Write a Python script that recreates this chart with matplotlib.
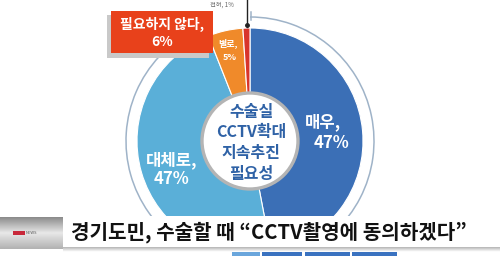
import numpy as np
import matplotlib
matplotlib.use("Agg")
import matplotlib.pyplot as plt
from matplotlib.patches import Circle, Rectangle, Arc

plt.rcParams['font.family'] = ['Noto Sans CJK KR', 'DejaVu Sans']

# Survey answers (share of respondents, %)
categories = ["매우", "대체로", "별로", "전혀"]
shares = [47, 47, 5, 1]
slice_colors = ["#3b6fb6", "#5aafd8", "#f08a2a", "#d8352b"]

center_title = ["수술실", "CCTV확대", "지속추진", "필요성"]
not_needed_total = 6
headline = "경기도민, 수술할 때 \u201cCCTV촬영에 동의하겠다\u201d"

W, H = 500, 256
fig = plt.figure(figsize=(W / 100, H / 100), dpi=100)
ax = fig.add_axes([0, 0, 1, 1])


def Y(y):
    return H - y


cx, cy, R = 250, Y(141), 113

# outer thin guide ring, open at the upper left
ax.add_patch(Arc((cx, cy), 2 * 124, 2 * 124, theta1=137, theta2=450,
                 color="#9fb3c8", lw=1.1, zorder=1))
ax.plot([251, 251], [Y(12), Y(20)], color="#9fb3c8", lw=1.1, zorder=1)

ax.pie(shares, colors=slice_colors, startangle=90, counterclock=False,
       center=(cx, cy), radius=R, frame=True,
       wedgeprops=dict(edgecolor="white", linewidth=0.8, zorder=2))

# center badge
ax.add_patch(Circle((cx, cy), 48, facecolor="white", edgecolor="#b4b4b4",
                    lw=2.4, zorder=3))
for i, line in enumerate(center_title):
    ax.text(cx + 1, Y(112 + 20.5 * i), line, ha="center", va="center",
            fontsize=11.5, fontweight="heavy", color="#2f62a6", zorder=4)

# slice labels
ax.text(323, Y(122), f"{categories[0]},", ha="center", va="center",
        fontsize=12, fontweight="bold", color="white", zorder=4)
ax.text(332, Y(143), f"{shares[0]}%", ha="center", va="center",
        fontsize=12, fontweight="bold", color="white", zorder=4)
ax.text(172, Y(160), f"{categories[1]},", ha="center", va="center",
        fontsize=12, fontweight="bold", color="white", zorder=4)
ax.text(171, Y(179), f"{shares[1]}%", ha="center", va="center",
        fontsize=12, fontweight="bold", color="white", zorder=4)
ax.text(228, Y(43), f"{categories[2]},", ha="center", va="center",
        fontsize=6.5, fontweight="bold", color="white", zorder=4)
ax.text(230, Y(57), f"{shares[2]}%", ha="center", va="center",
        fontsize=6.5, fontweight="bold", color="white", zorder=4)

# leader for the smallest slice
ax.plot([247, 247], [Y(0), Y(27)], color="#222222", lw=1.0, zorder=5)
ax.plot([247], [Y(25)], marker="o", ms=2.5, color="#222222", zorder=5)
ax.text(222, Y(0.5), f"{categories[3]}, {shares[3]}%", ha="center", va="top",
        fontsize=4.5, color="#666666", zorder=5)

# "not needed" call-out box with drop shadow
ax.add_patch(Rectangle((107, Y(58)), 102, 43, facecolor="#c9c9c9",
                       edgecolor="none", zorder=5))
ax.add_patch(Rectangle((111, Y(53)), 102, 42, facecolor="#e8411b",
                       edgecolor="none", zorder=6))
ax.text(162, Y(24), "필요하지 않다,", ha="center", va="center",
        fontsize=10, fontweight="bold", color="white", zorder=7)
ax.text(162, Y(42), f"{not_needed_total}%", ha="center", va="center",
        fontsize=10, fontweight="bold", color="white", zorder=7)

# lower caption strip
ax.add_patch(Rectangle((0, Y(248)), W, 32, facecolor="white",
                       edgecolor="none", zorder=8))
grad = np.linspace(0.72, 1.0, 8).reshape(-1, 1)
ax.imshow(np.repeat(grad, 2, axis=1), cmap="gray", vmin=0, vmax=1,
          extent=(63, W, Y(252), Y(247)), aspect="auto", zorder=9)
ax.add_patch(Rectangle((0, Y(256)), W, 4, facecolor="white",
                       edgecolor="none", zorder=8))
for x0, w, c in [(232, 28, "#6aa6dc"), (262, 40, "#3a72c0"),
                 (305, 45, "#3a72c0"), (352, 45, "#3a72c0")]:
    ax.add_patch(Rectangle((x0, Y(256)), w, 4, facecolor=c,
                           edgecolor="none", zorder=9))

# channel thumbnail on the left of the caption
rows = np.concatenate([np.linspace(0.55, 0.9, 15), np.linspace(0.9, 0.7, 15)])
thumb = rows.reshape(-1, 1) * np.ones((1, 60))
ax.imshow(thumb, cmap="gray", vmin=0, vmax=1,
          extent=(0, 63, Y(249), Y(217)), aspect="auto", zorder=9)
ax.add_patch(Rectangle((13, Y(235)), 12, 4, facecolor="#c8283a",
                       edgecolor="none", zorder=10))
ax.text(26, Y(233), "NEWS", ha="left", va="center", fontsize=3,
        color="#555555", zorder=10)

ax.text(269, Y(232), headline, ha="center", va="center", fontsize=14.5,
        fontweight="heavy", color="#111111", zorder=10)

ax.set_xlim(0, W)
ax.set_ylim(0, H)
ax.set_aspect("auto")
ax.axis("off")

fig.savefig("out.png", dpi=100)
